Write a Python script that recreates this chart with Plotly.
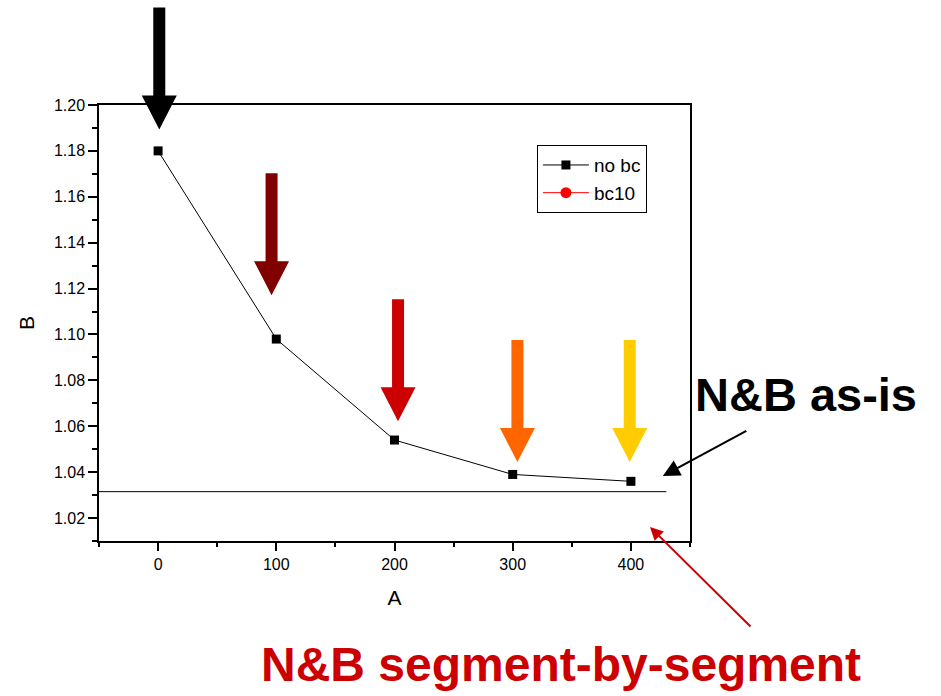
import plotly.graph_objects as go

# Measured data
a_values = [0, 100, 200, 300, 400]
b_no_bc = [1.180, 1.098, 1.054, 1.039, 1.036]
b_bc10 = []  # second legend series, no points in view

# Segment-by-segment reference level
seg_x = [-50, 430]
seg_y = [1.0315, 1.0315]

# Marker arrows above each point: data x of the arrow, data y of its tip, colour
arrow_x = [1, 96, 203, 304, 399]
arrow_tip = [1.1893, 1.1171, 1.0622, 1.0444, 1.0444]
arrow_colors = ["#000000", "#800000", "#cc0000", "#ff6600", "#ffcc00"]

x_range = [-50, 450]
y_range = [1.01, 1.20]

FONT = "Arial, Liberation Sans, sans-serif"

fig = go.Figure()

fig.add_trace(go.Scatter(
    x=seg_x, y=seg_y, mode="lines",
    line=dict(color="black", width=1),
    showlegend=False, hoverinfo="skip",
))
fig.add_trace(go.Scatter(
    x=a_values, y=b_no_bc, name="no bc", mode="lines+markers",
    line=dict(color="black", width=1),
    marker=dict(symbol="square", size=9, color="black"),
))
fig.add_trace(go.Scatter(
    x=[None] if not b_bc10 else a_values, y=[None] if not b_bc10 else b_bc10,
    name="bc10", mode="lines+markers",
    line=dict(color="#ff0000", width=1),
    marker=dict(symbol="circle", size=11, color="#ff0000"),
))


def ypaper(v):
    return (v - y_range[0]) / (y_range[1] - y_range[0])


# Fat down arrows: tip at the anchor, sizes in pixels
arrow_path = "M 0,0 L -17.5,34 L -6,34 L -6,122 L 6,122 L 6,34 L 17.5,34 Z"
shapes = []
for xv, tip, col in zip(arrow_x, arrow_tip, arrow_colors):
    shapes.append(dict(
        type="path", path=arrow_path,
        xref="x", xsizemode="pixel", xanchor=xv,
        yref="paper", ysizemode="pixel", yanchor=ypaper(tip),
        fillcolor=col, line=dict(width=0), layer="above",
    ))

annotations = [
    dict(text="<b>N&B as-is</b>", xref="paper", yref="paper",
         x=1.196, y=0.335, xanchor="center", yanchor="middle",
         showarrow=False, font=dict(family=FONT, size=47, color="black")),
    dict(text="", xref="paper", yref="paper", x=0.954, y=0.149,
         ax=85, ay=-46, showarrow=True, arrowhead=2, arrowsize=1.7,
         arrowwidth=2, arrowcolor="black"),
    dict(text="<b>N&B segment-by-segment</b>", xref="paper", yref="paper",
         x=0.782, y=-0.284, xanchor="center", yanchor="middle",
         showarrow=False, font=dict(family=FONT, size=48, color="#cc0000")),
    dict(text="", xref="paper", yref="paper", x=0.9323, y=0.0321,
         ax=102, ay=101, showarrow=True, arrowhead=2, arrowsize=1.3,
         arrowwidth=2, arrowcolor="#cc0000"),
]

fig.update_layout(
    width=941, height=696,
    margin=dict(l=99, r=251, t=105, b=155),
    paper_bgcolor="white", plot_bgcolor="white",
    font=dict(family=FONT, size=16, color="black"),
    shapes=shapes, annotations=annotations,
    legend=dict(x=0.741, y=0.908, xanchor="left", yanchor="top",
                bordercolor="black", borderwidth=1, bgcolor="white",
                font=dict(size=19), itemwidth=46, tracegroupgap=0),
    xaxis=dict(
        range=x_range, dtick=100, tick0=0,
        showgrid=False, zeroline=False,
        showline=True, linecolor="black", linewidth=1.5, mirror=True,
        ticks="outside", ticklen=8, tickwidth=1.5, tickcolor="black",
        minor=dict(dtick=50, tick0=0, ticks="outside", ticklen=4,
                   tickwidth=1.5, tickcolor="black"),
        title=dict(text="A", font=dict(size=21), standoff=18),
    ),
    yaxis=dict(
        range=y_range, dtick=0.02, tick0=1.0, tickformat=".2f",
        showgrid=False, zeroline=False,
        showline=True, linecolor="black", linewidth=1.5, mirror=True,
        ticks="outside", ticklen=9, tickwidth=1.5, tickcolor="black",
        minor=dict(dtick=0.01, tick0=1.0, ticks="outside", ticklen=5,
                   tickwidth=1.5, tickcolor="black"),
        title=dict(text="B", font=dict(size=21), standoff=14),
    ),
)

fig.write_html("out.html")
